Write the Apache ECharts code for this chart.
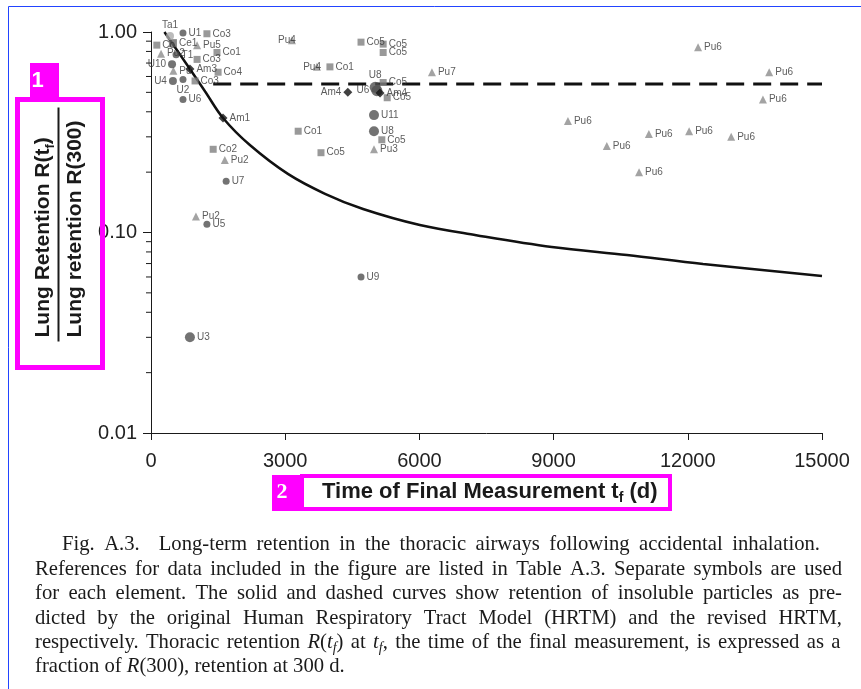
<!DOCTYPE html>
<html><head><meta charset="utf-8">
<script src="https://cdn.jsdelivr.net/npm/echarts@6/dist/echarts.min.js"></script>
<style>html,body{margin:0;padding:0;background:#fff}#c{width:861px;height:689px}</style>
</head><body><div id="c"></div>
<script>
// ---------------- DATA ----------------
// x ticks
const xTicks = [0, 3000, 6000, 9000, 12000, 15000];
// y minor ticks (log axis)
const yMinor = [0.02,0.03,0.04,0.05,0.06,0.07,0.08,0.09,0.2,0.3,0.4,0.5,0.6,0.7,0.8,0.9];

// Original HRTM (solid curve)
const curveDays = [300, 870, 1210, 1610, 2210, 3060, 3890, 4740, 6010, 7270, 8960, 10640, 12340, 15000];
const curveRet  = [1.00, 0.654, 0.505, 0.3725, 0.273, 0.196, 0.156, 0.131, 0.109, 0.097, 0.0847, 0.0772, 0.0697, 0.0607];
// Revised HRTM (dashed)
const dashDays = [1390, 15000];
const dashRet  = [0.55, 0.55];

// Cobalt (squares)
const coNames = ['Co3','Co','Co1','Co3','Co4','Co3','Co2','Co1','Co5','Co5','Co5','Co5','Co5','Co5','Co5','Co1'];
const coDays  = [1250, 130, 1475, 1030, 1500, 985, 1390, 4000, 4695, 5190, 5190, 5190, 5280, 5160, 3800, 3290];
const coRet   = [0.98, 0.86, 0.79, 0.73, 0.63, 0.57, 0.26, 0.67, 0.89, 0.87, 0.79, 0.56, 0.47, 0.29, 0.25, 0.32];
// Cerium
const ceNames = ['Ce1'];
const ceDays  = [490];
const ceRet   = [0.88];
// Plutonium (triangles)
const puNames = ['Pu5','Pu2','Pu','Pu2','Pu2','Pu4','Pu4','Pu3','Pu7','Pu6','Pu6','Pu6','Pu6','Pu6','Pu6','Pu6','Pu6','Pu6'];
const puDays  = [1030, 225, 500, 1650, 1005, 3150, 3710, 4985, 6280, 12230, 13820, 13680, 9320, 11130, 12030, 12970, 10190, 10910];
const puRet   = [0.86, 0.78, 0.64, 0.23, 0.12, 0.91, 0.67, 0.26, 0.63, 0.84, 0.63, 0.46, 0.36, 0.31, 0.32, 0.30, 0.27, 0.20];
// Uranium (circles)
const uNames = ['U1','T1','U10','U4','U2','U6','U7','U5','U9','U3','U8','U6','U11','U8'];
const uDays  = [715, 560, 470, 490, 715, 715, 1680, 1250, 4695, 870, 5010, 5050, 4985, 4985];
const uRet   = [0.99, 0.77, 0.69, 0.57, 0.58, 0.46, 0.18, 0.11, 0.060, 0.030, 0.53, 0.51, 0.385, 0.32];
// Tantalum
const taNames = ['Ta1'];
const taDays  = [425];
const taRet   = [0.955];
// Americium (diamonds)
const amNames = ['Am3','Am1','Am4','Am4'];
const amDays  = [870, 1610, 4400, 5120];
const amRet   = [0.654, 0.3725, 0.50, 0.496];

// Texts
const xTitle = '{a|Time of Final Measurement t}{s|f}{a| (d)}';
const yTitleTop = '{a|Lung Retention R(t}{s|f}{a|)}';
const yTitleBottom = '{a|Lung retention R(300)}';
const captionLines = [
 'Fig. A.3.  Long-term retention in the thoracic airways following accidental inhalation.',
 'References for data included in the figure are listed in Table A.3. Separate symbols are used',
 'for each element. The solid and dashed curves show retention of insoluble particles as pre-',
 'dicted by the original Human Respiratory Tract Model (HRTM) and the revised HRTM,',
 'respectively. Thoracic retention {i|R}({i|t}{s|f}) at {i|t}{s|f}, the time of the final measurement, is expressed as a',
 'fraction of {i|R}(300), retention at 300 d.'
];

// ---------------- STYLE / LAYOUT ----------------
const SANS = '"Liberation Sans", Arial, sans-serif';
const SERIF = '"Liberation Serif", "Times New Roman", serif';
const coSide = coNames.map(()=> 'right');
const puSide = ['right','right','right','right','right','over','over','right','right','right','right','right','right','right','right','right','right','right'];
const uSide  = ['right','right','left','left','bottom','right','right','right','right','right','top','left','right','right'];
const uSize  = [7,7,8,8,7,7,7,7,7,10,11,11,10,10];
const amSide = ['right','right','left','right'];
const taSide = ['top'];
const capX0 = [62,35,35,35,35,35];
const capX1 = [820,842,842,842,842,null];
const capY  = [545,570,594,619,643,667];

function labelFor(side){
  if (side === 'over') return {position:'left', distance:-8};
  return {position: side, distance: 2};
}
function items(names, xs, ys, sides, sizes){
  return names.map((n,i)=>{
    const it = {name:n, value:[xs[i], ys[i]], label: labelFor(sides[i])};
    if (sizes) it.symbolSize = sizes[i];
    return it;
  });
}
const baseLabel = {show:true, formatter:'{b}', fontSize:10, color:'#333', fontFamily:SANS};
function scatter(name, data, symbol, color, size){
  return {name, type:'scatter', data, symbol, symbolSize:size, z:4,
    itemStyle:{color}, label: baseLabel, emphasis:{disabled:true}};
}

// caption layout with justification
const cv = document.createElement('canvas').getContext('2d');
function fontOf(st, fs){
  if (st==='i') return 'italic ' + fs + 'px ' + SERIF;
  if (st==='s') return Math.round(fs*0.68) + 'px ' + SERIF;
  return fs + 'px ' + SERIF;
}
function parseLine(str){
  const re = /\{(\w+)\|([^}]*)\}|([^{]+)/g; let m; const out=[];
  while ((m = re.exec(str))) {
    if (m[3] !== undefined) out.push({st:'n', t:m[3]}); else out.push({st:m[1], t:m[2]});
  }
  return out;
}
function measure(str, fs){
  let w=0, sp=0;
  parseLine(str).forEach(tok=>{
    cv.font = fontOf(tok.st, fs);
    if (tok.st==='n'){ const parts = tok.t.split(' '); sp += parts.length-1; parts.forEach(p=> w += cv.measureText(p).width); }
    else w += cv.measureText(tok.t).width;
  });
  cv.font = fontOf('n', fs);
  return {w, sp, spaceW: cv.measureText(' ').width};
}
let capFs = 20;
{
  const m = measure(captionLines[5], 20);
  const nat = m.w + m.sp*m.spaceW;
  capFs = Math.max(17, Math.min(22, 20 * 310 / nat));
}
const captionGraphics = captionLines.map((line, li)=>{
  const m = measure(line, capFs);
  let gap = m.spaceW;
  if (capX1[li] != null && m.sp > 0) gap = Math.max(2, (capX1[li]-capX0[li]-m.w)/m.sp);
  let txt = '';
  parseLine(line).forEach(tok=>{
    if (tok.st==='n') txt += tok.t.split(' ').join('{g|\u00a0}');
    else txt += '{' + tok.st + '|' + tok.t + '}';
  });
  return {type:'text', x:capX0[li], y:capY[li], z:50,
    style:{text:txt, fontSize:capFs, fontFamily:SERIF, fill:'#1a1a1a',
      align:'left', verticalAlign:'middle', textAlign:'left', textVerticalAlign:'middle',
      rich:{
        g:{width:gap, fontSize:capFs, fontFamily:SERIF, lineHeight:capFs+4},
        i:{fontStyle:'italic', fontSize:capFs, fontFamily:SERIF, fill:'#1a1a1a', lineHeight:capFs+4},
        s:{fontStyle:'italic', fontSize:Math.round(capFs*0.68), fontFamily:SERIF, fill:'#1a1a1a', verticalAlign:'bottom', lineHeight:Math.round(capFs*0.68)}
      }}};
});

function titleRich(fs){
  return {
    a:{fontSize:fs, fontWeight:'bold', fontFamily:SANS, fill:'#1a1a1a', lineHeight:fs+5},
    s:{fontSize:Math.round(fs*0.62), fontWeight:'bold', fontFamily:SANS, fill:'#1a1a1a', lineHeight:Math.round(fs*0.62), verticalAlign:'bottom'}
  };
}

const MAG = '#ff00ff';
const graphics = [
  {type:'line', z:1, shape:{x1:8.5,y1:6.5,x2:861,y2:6.5}, style:{stroke:'#2244ff', lineWidth:1}},
  {type:'line', z:1, shape:{x1:8.5,y1:6.5,x2:8.5,y2:689}, style:{stroke:'#2244ff', lineWidth:1}},
  {type:'group', x:58.5, y:224.5, rotation:Math.PI/2, z:40, children:[
    {type:'text', x:-113, y:-15, style:{text:yTitleTop, rich:titleRich(21), fontSize:21, fontFamily:SANS, align:'left', verticalAlign:'middle', textAlign:'left', textVerticalAlign:'middle'}},
    {type:'line', shape:{x1:-117,y1:0,x2:117,y2:0}, style:{stroke:'#1a1a1a', lineWidth:2}},
    {type:'text', x:-113, y:17, style:{text:yTitleBottom, rich:titleRich(21), fontSize:21, fontFamily:SANS, align:'left', verticalAlign:'middle', textAlign:'left', textVerticalAlign:'middle'}}
  ]},
  {type:'text', x:322, y:492, z:40, style:{text:xTitle, rich:titleRich(22), fontSize:22, fontFamily:SANS, align:'left', verticalAlign:'middle', textAlign:'left', textVerticalAlign:'middle'}},
  {type:'rect', z:60, shape:{x:17.5,y:99.5,width:85,height:268}, style:{fill:'none', stroke:MAG, lineWidth:5}},
  {type:'rect', z:60, shape:{x:30,y:63,width:29,height:34}, style:{fill:MAG}},
  {type:'text', z:61, x:37.5, y:81, style:{text:'1', fontSize:22, fontWeight:'bold', fontFamily:SANS, fill:'#fff', align:'center', verticalAlign:'middle', textAlign:'center', textVerticalAlign:'middle'}},
  {type:'rect', z:60, shape:{x:302,y:476,width:368,height:33}, style:{fill:'none', stroke:MAG, lineWidth:4}},
  {type:'rect', z:60, shape:{x:272,y:475,width:28,height:36}, style:{fill:MAG}},
  {type:'text', z:61, x:282, y:492, style:{text:'2', fontSize:22, fontWeight:'bold', fontFamily:SERIF, fill:'#fff', align:'center', verticalAlign:'middle', textAlign:'center', textVerticalAlign:'middle'}}
].concat(captionGraphics);

const chart = echarts.init(document.getElementById('c'), null, {renderer:'canvas'});
chart.setOption({
  animation:false,
  backgroundColor:'#fff',
  grid:{left:151, right:39, top:32, bottom:256, containLabel:false},
  xAxis:{type:'value', min:xTicks[0], max:xTicks[xTicks.length-1], interval:xTicks[1]-xTicks[0],
    axisLine:{show:true, lineStyle:{color:'#1a1a1a', width:1}},
    axisTick:{show:true, length:7, inside:false, lineStyle:{color:'#1a1a1a'}},
    axisLabel:{fontSize:20, color:'#222', fontFamily:SANS, margin:18, formatter:v=>String(Math.round(v))},
    splitLine:{show:false}},
  yAxis:{type:'log', logBase:10, min:0.01, max:1,
    axisLine:{show:true, lineStyle:{color:'#1a1a1a', width:1}},
    axisTick:{show:true, length:8, inside:false, lineStyle:{color:'#1a1a1a'}},
    axisLabel:{fontSize:20, color:'#222', fontFamily:SANS, margin:14, formatter:v=>Number(v).toFixed(2)},
    splitLine:{show:false}},
  graphic: graphics,
  series:[
    {type:'custom', clip:false, silent:true, z:3,
      data: yMinor.map(v=>[xTicks[0], v]),
      encode:{x:0, y:1},
      renderItem:(params, api)=>{
        const p = api.coord([api.value(0), api.value(1)]);
        return {type:'line', shape:{x1:p[0]-5, y1:p[1], x2:p[0], y2:p[1]}, style:{stroke:'#1a1a1a', lineWidth:1}};
      }},
    {name:'HRTM', type:'line', data: curveDays.map((d,i)=>[d, curveRet[i]]), smooth:0.35, symbol:'none', z:3,
      lineStyle:{color:'#111', width:2.5}},
    {name:'Revised HRTM', type:'line', data: dashDays.map((d,i)=>[d, dashRet[i]]), symbol:'none', z:3,
      lineStyle:{color:'#111', width:3, type:[18,9]}},
    scatter('Co', items(coNames, coDays, coRet, coSide), 'rect', '#7f7f7f', 7),
    scatter('Ce', items(ceNames, ceDays, ceRet, ['right']), 'rect', '#666', 8),
    scatter('Pu', items(puNames, puDays, puRet, puSide), 'triangle', '#8c8c8c', 8),
    scatter('Ta', items(taNames, taDays, taRet, taSide), 'circle', '#aaaaaa', 8),
    scatter('U', items(uNames, uDays, uRet, uSide, uSize), 'circle', '#505050', 7),
    scatter('Am', items(amNames, amDays, amRet, amSide), 'diamond', '#111', 9)
  ]
});
</script>
</body></html>
